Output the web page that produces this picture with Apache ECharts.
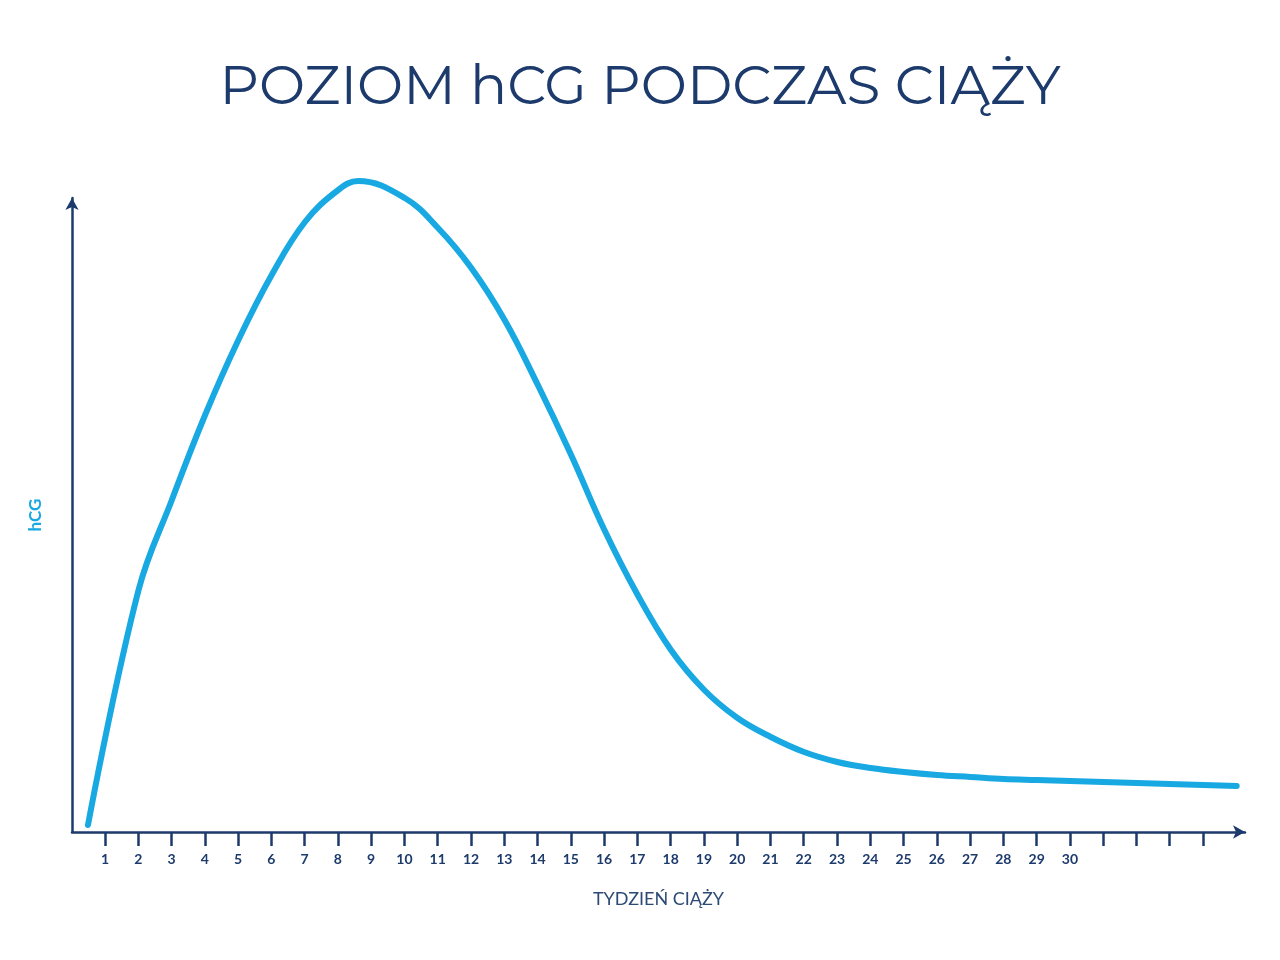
<!DOCTYPE html>
<html><head><meta charset="utf-8">
<script src="https://cdn.jsdelivr.net/npm/echarts@6/dist/echarts.min.js"></script>
<style>html,body{margin:0;background:#fff}#c{width:1280px;height:960px}</style>
</head><body><div id="c"></div>
<script>
const weeks = [0.48,2,3,4,5,6,7,8,8.6,10,11,12,13,14,15,16,17,18,19,20,21,22,23,24,25,26,27,28,29,30,32,35];
const hcg = [7,242,332,417,492,557,610,642,651,634,604,564,512,447,377,302,237,182,142,114,95,80,70,64,60,57,55,53,52,51,49,46];
const titleText = 'POZIOM hCG PODCZAS CIĄŻY';
const xName = 'TYDZIEŃ CIĄŻY';
const yName = 'hCG';
const navy = '#1c3a6b', blue = '#18a8e2';
const chart = echarts.init(document.getElementById('c'));
chart.setOption({
  backgroundColor:'#fff',
  animation:false,
  title:{text:titleText,left:'center',top:55,textStyle:{fontFamily:'Montserrat, Lato, sans-serif',fontSize:55,fontWeight:'normal',color:navy}},
  grid:[{left:72,right:35,top:198,bottom:128},{left:105,right:77,top:198,bottom:128}],
  xAxis:[{type:'value',gridIndex:0,min:0,max:35.25,
    name:xName,nameLocation:'middle',nameGap:58,
    nameTextStyle:{fontFamily:'Lato, sans-serif',fontSize:18,color:'#2c4a74'},
    axisLine:{lineStyle:{color:navy,width:2.5},symbol:['none','arrow'],symbolSize:[10,12]},
    axisTick:{show:false},axisLabel:{show:false},splitLine:{show:false}},
   {type:'value',gridIndex:1,min:1,max:34,interval:1,
    axisLine:{show:false},
    axisTick:{show:true,length:14,lineStyle:{color:navy,width:2.5}},
    axisLabel:{margin:20,fontFamily:'Lato, sans-serif',fontWeight:'bold',fontSize:14,color:navy,
      formatter:v=>(v>=1&&v<=30)?String(v):''},
    splitLine:{show:false}}],
  yAxis:[{type:'value',gridIndex:0,min:0,max:634,
    name:yName,nameLocation:'middle',nameGap:28,nameRotate:90,
    nameTextStyle:{fontFamily:'Lato, sans-serif',fontSize:17,fontWeight:'bold',color:blue},
    axisLine:{show:true,lineStyle:{color:navy,width:2.5},symbol:['none','arrow'],symbolSize:[10,12]},
    axisTick:{show:false},axisLabel:{show:false},splitLine:{show:false}},
   {type:'value',gridIndex:1,show:false}],
  series:[{type:'line',xAxisIndex:0,yAxisIndex:0,data:weeks.map((w,i)=>[w,hcg[i]]),smooth:0.4,showSymbol:false,clip:false,
    lineStyle:{color:blue,width:6,cap:'round'}}]
});
</script></body></html>
